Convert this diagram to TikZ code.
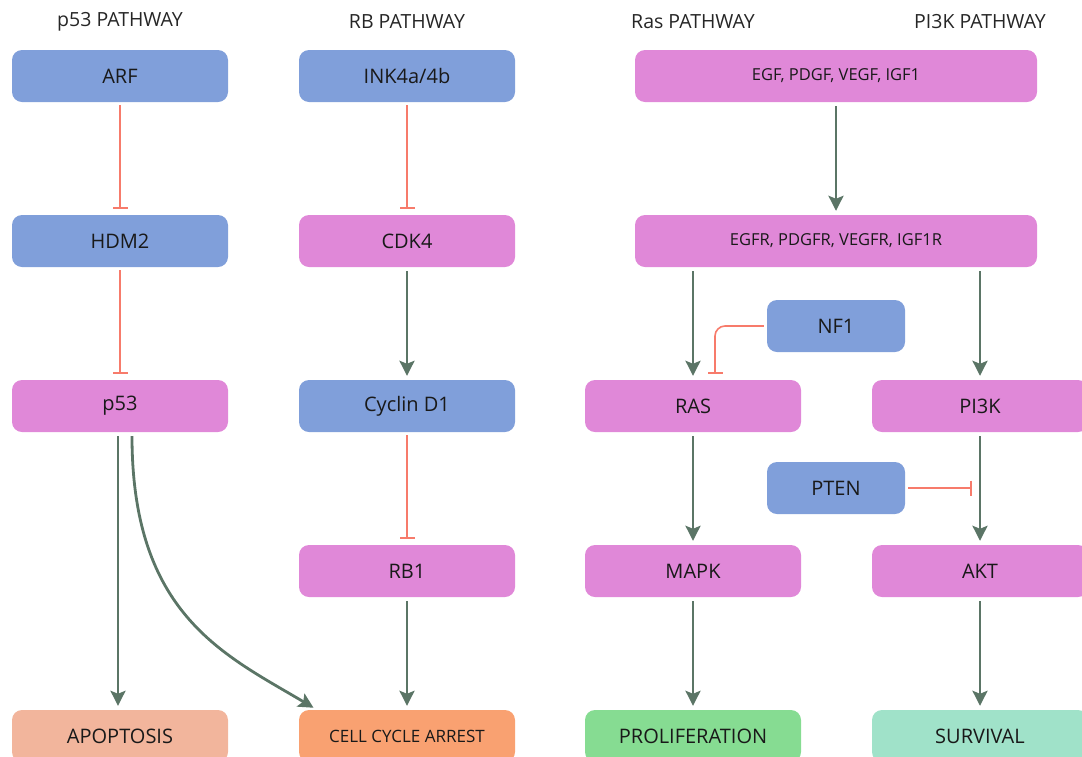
\documentclass[tikz,border=0pt]{standalone}
\usepackage{fontspec}
\setmainfont{Open Sans}
\usetikzlibrary{arrows.meta}
\definecolor{genblue}{HTML}{809FDA}
\definecolor{genpink}{HTML}{E088D8}
\definecolor{apopcol}{HTML}{F2B59C}
\definecolor{arrestcol}{HTML}{F9A171}
\definecolor{prolifcol}{HTML}{86DC92}
\definecolor{survcol}{HTML}{A0E2C9}
\definecolor{actcol}{HTML}{5B7566}
\definecolor{inhcol}{HTML}{F77B6B}
\tikzset{
  gene/.style={rectangle, rounded corners=10pt, minimum width=216pt,
    minimum height=52pt, inner sep=0pt, text=black!90,
    font=\fontsize{20}{23}\selectfont},
  wide/.style={gene, minimum width=402pt, font=\fontsize{16.5}{19}\selectfont},
  small/.style={gene, minimum width=138pt},
  head/.style={text=black!85, font=\fontsize{19.5}{22}\selectfont},
  act/.style={actcol, line width=2.8pt, shorten <=4pt, shorten >=4pt,
    -{Stealth[length=15pt,width=15pt,inset=3pt]}},
  inh/.style={inhcol, line width=1.6pt, shorten <=3pt, shorten >=6pt,
    -{Bar[width=15pt]}}
}
\begin{document}
\begin{tikzpicture}[x=1pt,y=-1pt]
  \useasboundingbox (0,0) rectangle (1082,756);
  \node[head] (hp53) at (120,22) {p53 PATHWAY};
  \node[head] (hrb) at (407,22) {RB PATHWAY};
  \node[head] (hras) at (693,22) {Ras PATHWAY};
  \node[head] (hpik) at (980,22) {PI3K PATHWAY};
  % p53 pathway
  \node[gene, fill=genblue] (arf) at (120,76) {ARF};
  \node[gene, fill=genblue] (hdm2) at (120,241) {HDM2};
  \node[gene, fill=genpink] (p53) at (120,406) {p53};
  \node[gene, fill=apopcol] (apop) at (120,736) {APOPTOSIS};
  % RB pathway
  \node[gene, fill=genblue] (ink) at (407,76) {INK4a/4b};
  \node[gene, fill=genpink] (cdk4) at (407,241) {CDK4};
  \node[gene, fill=genblue] (cyc) at (407,406) {Cyclin D1};
  \node[gene, fill=genpink] (rb1) at (407,571) {RB1};
  \node[gene, fill=arrestcol, font=\fontsize{17}{20}\selectfont] (arrest) at (407,736) {CELL CYCLE ARREST};
  % Ras and PI3K pathways
  \node[wide, fill=genpink] (egf) at (836,76) {EGF, PDGF, VEGF, IGF1};
  \node[wide, fill=genpink] (egfr) at (836,241) {EGFR, PDGFR, VEGFR, IGF1R};
  \node[small, fill=genblue] (nf1) at (836,326) {NF1};
  \node[gene, fill=genpink] (ras) at (693,406) {RAS};
  \node[gene, fill=genpink] (pik) at (980,406) {PI3K};
  \node[small, fill=genblue] (pten) at (836,488) {PTEN};
  \node[gene, fill=genpink] (mapk) at (693,571) {MAPK};
  \node[gene, fill=genpink] (akt) at (980,571) {AKT};
  \node[gene, fill=prolifcol] (prolif) at (693,736) {PROLIFERATION};
  \node[gene, fill=survcol] (surv) at (980,736) {SURVIVAL};

  \draw[inh] (arf) -- (hdm2);
  \draw[inh] (hdm2) -- (p53);
  \draw[act] ([xshift=-2pt]p53.south) -- ([xshift=-2pt]apop.north);
  \draw[act] ([xshift=12pt]p53.south) .. controls (132,615) and (225,655) .. ([xshift=-90pt]arrest.north);
  \draw[inh] (ink) -- (cdk4);
  \draw[act] (cdk4) -- (cyc);
  \draw[inh] (cyc) -- (rb1);
  \draw[act] (rb1) -- (arrest);
  \draw[act] (egf) -- (egfr);
  \draw[act] (egfr.south -| ras.north) -- (ras);
  \draw[act] (egfr.south -| pik.north) -- (pik);
  \draw[inh, rounded corners=10pt] (nf1.west) -| ([xshift=22pt]ras.north);
  \draw[act] (ras) -- (mapk);
  \draw[act] (pik) -- (akt);
  \draw[inh, shorten >=8pt] (pten.east) -- (pten.east -| akt.north);
  \draw[act] (mapk) -- (prolif);
  \draw[act] (akt) -- (surv);
\end{tikzpicture}
\end{document}
